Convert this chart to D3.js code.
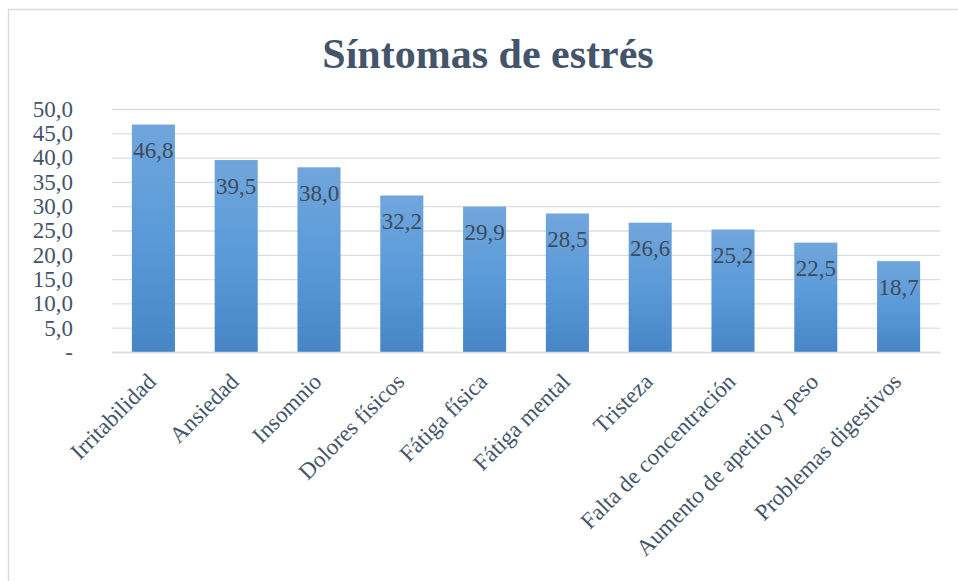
<!DOCTYPE html>
<html>
<head>
<meta charset="utf-8">
<script src="https://cdn.jsdelivr.net/npm/d3@7"></script>
<style>
  body { margin: 0; background: #fff; }
  svg text { font-family: "Liberation Serif", "Times New Roman", serif; }
</style>
</head>
<body>
<div id="chart"></div>
<script>
// data
const categories = ["Irritabilidad", "Ansiedad", "Insomnio", "Dolores físicos", "Fátiga física",
  "Fátiga mental", "Tristeza", "Falta de concentración", "Aumento de apetito y peso", "Problemas digestivos"];
const values = [46.8, 39.5, 38.0, 32.2, 29.9, 28.5, 26.6, 25.2, 22.5, 18.7];
const yTicks = [0, 5, 10, 15, 20, 25, 30, 35, 40, 45, 50];

const width = 958, height = 581;
const margin = ({top: 109, right: 18, bottom: 229, left: 112});
const innerW = width - margin.left - margin.right;
const innerH = height - margin.top - margin.bottom;
const textColor = "#44546A";

const fmt = (v) => v === 0 ? "-" : v.toFixed(1).replace(".", ",");

const svg = d3.select("#chart")
    .append("svg")
    .attr("width", width)
    .attr("height", height);

// outer frame (only top and left edges are visible)
svg.append("path")
    .attr("d", `M8.5,${height}V9.5H${width}`)
    .attr("fill", "none")
    .attr("stroke", "#d9dde3")
    .attr("stroke-width", 1.5);

// gradient for bars
const grad = svg.append("defs").append("linearGradient")
    .attr("id", "barGrad")
    .attr("x1", 0).attr("y1", 0).attr("x2", 0).attr("y2", 1);
grad.append("stop").attr("offset", "0%").attr("stop-color", "#70a6dc");
grad.append("stop").attr("offset", "50%").attr("stop-color", "#5a9ad9");
grad.append("stop").attr("offset", "100%").attr("stop-color", "#4686c6");

// title
svg.append("text")
    .text("Síntomas de estrés")
    .attr("x", 488)
    .attr("y", 68)
    .attr("text-anchor", "middle")
    .attr("font-size", 42)
    .attr("font-weight", "bold")
    .attr("fill", textColor);

const g = svg.append("g")
    .attr("transform", `translate(${margin.left},${margin.top})`);

// scales
const xScale = d3.scaleBand()
    .domain(categories)
    .range([0, innerW])
    .paddingInner(0.48)
    .paddingOuter(0.24);

const yScale = d3.scaleLinear()
    .domain([0, 50])
    .range([innerH, 0]);

// y axis with gridlines
const yAxis = d3.axisLeft(yScale)
    .tickValues(yTicks)
    .tickFormat(fmt)
    .tickSize(0)
    .tickPadding(39);

g.append("g")
    .attr("class", "y-axis")
    .call(yAxis)
    .call(ax => ax.select(".domain").remove())
    .call(ax => ax.selectAll(".tick text")
        .attr("font-size", 23)
        .attr("fill", textColor))
    .selectAll(".tick line")
    .clone()
    .attr("x2", innerW)
    .attr("stroke", "#d9dde3")
    .attr("stroke-width", 1.3);

// bars
g.selectAll("rect.bar")
    .data(values)
    .enter()
    .append("rect")
    .attr("class", "bar")
    .attr("x", (d, i) => xScale(categories[i]))
    .attr("y", (d) => yScale(d))
    .attr("width", xScale.bandwidth())
    .attr("height", (d) => innerH - yScale(d))
    .attr("fill", "url(#barGrad)");

// x axis
g.append("g")
    .attr("class", "x-axis")
    .attr("transform", `translate(0,${innerH})`)
    .call(d3.axisBottom(xScale).tickSize(0).tickPadding(0))
    .call(ax => ax.select(".domain").attr("stroke", "#d9dde3").attr("stroke-width", 1.3))
    .selectAll(".tick text")
    .attr("font-size", 23)
    .attr("fill", textColor)
    .attr("text-anchor", "end")
    .attr("dy", 0)
    .attr("transform", "translate(4,31) rotate(-45)");

// value labels
g.selectAll("text.val")
    .data(values)
    .enter()
    .append("text")
    .attr("class", "val")
    .text((d) => fmt(d))
    .attr("x", (d, i) => xScale(categories[i]) + xScale.bandwidth() / 2)
    .attr("y", (d) => yScale(d) + 33.5)
    .attr("text-anchor", "middle")
    .attr("font-size", 23)
    .attr("fill", "#404a5a");
</script>
</body>
</html>
